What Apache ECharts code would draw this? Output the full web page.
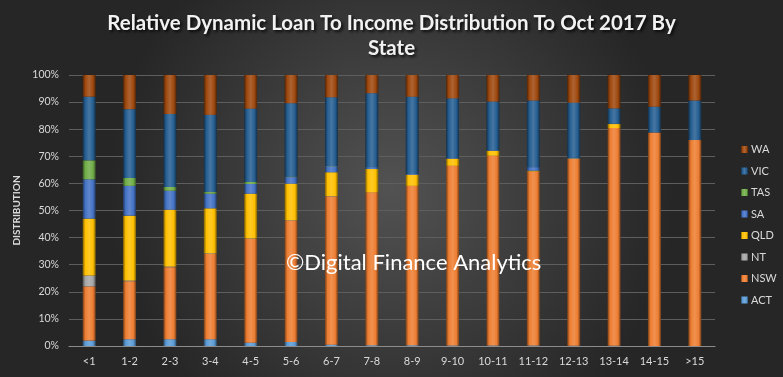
<!DOCTYPE html>
<html><head><meta charset="utf-8">
<script src="https://cdn.jsdelivr.net/npm/echarts@6/dist/echarts.min.js"></script>
<style>html,body{margin:0;padding:0;background:#333}#c{width:783px;height:377px}</style>
</head><body><div id="c"></div>
<script>
var categories = ['<1','1-2','2-3','3-4','4-5','5-6','6-7','7-8','8-9','9-10','10-11','11-12','12-13','13-14','14-15','>15'];
var ACT = [2, 2.5, 2.5, 2.5, 1.2, 1.5, 0.5, 0.3, 0.3, 0.2, 0.2, 0.2, 0.1, 0.1, 0, 0];
var NSW = [20, 21.4, 26.6, 31.5, 38.4, 44.8, 54.7, 56.4, 58.8, 66.3, 70, 64.2, 68.9, 80.3, 78.8, 76];
var NT  = [4, 0.3, 0.2, 0.2, 0.1, 0.1, 0.1, 0, 0, 0, 0, 0, 0, 0, 0, 0];
var QLD = [21, 23.9, 21, 16.6, 16.5, 13.5, 8.8, 8.6, 4.1, 2.6, 1.8, 0.3, 0.2, 1.5, 0, 0];
var SA  = [14.5, 11, 7, 5.4, 3.6, 2.4, 2.2, 0.7, 0.3, 0.2, 0.2, 1.3, 0.2, 0.1, 0, 0];
var TAS = [7, 2.9, 1.4, 0.6, 0.7, 0.2, 0.1, 0, 0, 0, 0, 0, 0, 0, 0, 0];
var VIC = [23.5, 25.4, 26.9, 28.5, 27.1, 27.1, 25.4, 27.3, 28.5, 22.1, 18, 24.6, 20.4, 5.7, 9.5, 14.6];
var WA  = [8, 12.6, 14.4, 14.7, 12.4, 10.4, 8.2, 6.7, 8, 8.6, 9.8, 9.4, 10.2, 12.3, 11.7, 9.4];
var seriesNames = ['ACT','NSW','NT','QLD','SA','TAS','VIC','WA'];
var seriesData = [ACT, NSW, NT, QLD, SA, TAS, VIC, WA];
var colors = ['#5B9BD5','#ED7D31','#A5A5A5','#FFC000','#4472C4','#70AD47','#255E91','#9E480E'];

function shade(hex, f){
  var n = parseInt(hex.slice(1),16), r=n>>16, g=(n>>8)&255, b=n&255;
  function c(v){ v = f<0 ? v*(1+f) : v+(255-v)*f; return Math.max(0,Math.min(255,Math.round(v))); }
  return 'rgb('+c(r)+','+c(g)+','+c(b)+')';
}
var chart = echarts.init(document.getElementById('c'));
var series = seriesNames.map(function(n,i){
  return {
    name:n, type:'bar', stack:'s', barWidth:13, data:seriesData[i],
    itemStyle:{ color:{ type:'linear', x:0,y:0,x2:1,y2:0, colorStops:[
      {offset:0,color:shade(colors[i],-0.5)},
      {offset:0.2,color:colors[i]},
      {offset:0.5,color:shade(colors[i],0.15)},
      {offset:0.8,color:colors[i]},
      {offset:1,color:shade(colors[i],-0.5)}]}},
    emphasis:{disabled:true}
  };
});
chart.setOption({
  animation:false,
  backgroundColor:{type:'radial', x:0.5, y:0.5, r:0.75, colorStops:[{offset:0,color:'#525252'},{offset:1,color:'#262626'}]},
  color: colors,
  title:{
    text:'Relative Dynamic Loan To Income Distribution To Oct 2017 By\nState',
    left:'center', top:6,
    textStyle:{color:'#f2f2f2', fontFamily:'Lato', fontWeight:'bold', fontSize:20.5, lineHeight:25,
      textShadowColor:'rgba(0,0,0,0.8)', textShadowBlur:3, textShadowOffsetX:2, textShadowOffsetY:2}
  },
  legend:{
    data:['WA','VIC','TAS','SA','QLD','NT','NSW','ACT'],
    orient:'vertical', left:736, top:139,
    icon:'rect', itemWidth:7, itemHeight:7, itemGap:10.5,
    textStyle:{color:'#d9d9d9', fontSize:11, fontFamily:'Lato', lineHeight:11, padding:[0,0,0,-2]},
    selectedMode:false
  },
  grid:{left:69, right:68, top:75, bottom:31},
  xAxis:{
    type:'category', data:categories,
    axisLine:{lineStyle:{color:'#8c8c8c'}},
    axisTick:{show:false},
    axisLabel:{color:'#d9d9d9', fontSize:11, fontFamily:'Lato', margin:10}
  },
  yAxis:{
    type:'value', min:0, max:100, interval:10,
    name:'DISTRIBUTION', nameLocation:'middle', nameGap:36, nameRotate:90,
    nameTextStyle:{color:'#d9d9d9', fontSize:10, fontWeight:'bold', fontFamily:'Lato'},
    axisLabel:{formatter:'{value}%', color:'#d9d9d9', fontSize:10.5, fontFamily:'Lato', margin:10},
    splitLine:{lineStyle:{color:'#5e5e5e'}},
    axisLine:{show:false}, axisTick:{show:false}
  },
  graphic:[{type:'text', left:286, top:252, z:100,
    style:{text:'©Digital Finance Analytics', fill:'#ffffff', fontSize:22, fontFamily:'Lato'}}],
  series: series
});
</script></body></html>
